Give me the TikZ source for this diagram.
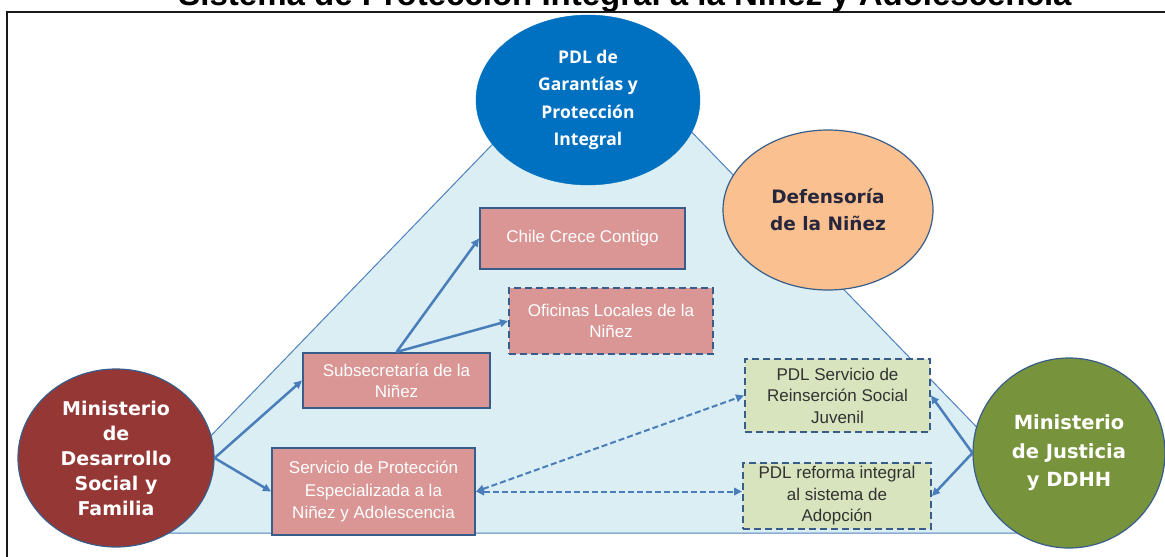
\documentclass[tikz,border=0pt]{standalone}
\usepackage{fontspec}
\setmainfont{Liberation Sans}
\newfontfamily\dvs{DejaVu Sans}
\newfontfamily\osans{Open Sans}
\usetikzlibrary{shapes.geometric,arrows.meta}
\definecolor{trifill}{RGB}{218,238,243}
\definecolor{triline}{RGB}{79,129,189}
\definecolor{boxblue}{RGB}{56,93,138}
\definecolor{pinkfill}{RGB}{217,150,148}
\definecolor{greenfill}{RGB}{215,228,189}
\definecolor{pdlblue}{RGB}{0,112,192}
\definecolor{orangefill}{RGB}{250,192,144}
\definecolor{maroon}{RGB}{149,55,53}
\definecolor{olive}{RGB}{119,147,60}
\definecolor{arrowblue}{RGB}{74,126,187}
\definecolor{darktext}{RGB}{50,50,50}
\definecolor{navytext}{RGB}{38,38,60}
\tikzset{
  pinkbox/.style={draw=boxblue, line width=2pt, fill=pinkfill, text=white,
    font=\fontsize{17}{21}\selectfont, align=center, inner sep=0pt},
  greenbox/.style={draw=boxblue, line width=2pt, dash pattern=on 7pt off 4pt, fill=greenfill, text=darktext,
    font=\fontsize{17}{21.5}\selectfont, align=center, inner sep=0pt},
  bigcirc/.style={ellipse, draw=boxblue, line width=1.2pt, inner sep=0pt, text=white, align=center},
  solidarrow/.style={draw=arrowblue, line width=2.5pt, -{Triangle[length=8pt,width=7.5pt]}},
  dasharrow/.style={draw=arrowblue, line width=2pt, dash pattern=on 6pt off 3pt,
    {Triangle[length=8pt,width=7.5pt]}-{Triangle[length=8pt,width=7.5pt]}},
}
\begin{document}
\begin{tikzpicture}[x=1pt,y=-1pt]
\useasboundingbox (0,0) rectangle (1165,557);
% title (partly clipped)
\node[anchor=base, font=\fontsize{33}{36}\selectfont\bfseries, inner sep=0pt] (title) at (625,5)
  {Sistema de Protección Integral a la Niñez y Adolescencia};
% frame
\draw[line width=2pt, color=black!90] (7,560) -- (7,12) -- (1168,12);
% triangle
\filldraw[fill=trifill, draw=triline, line width=1pt] (598,35) -- (117,533) -- (1079,533) -- cycle;
% ellipses
\node[ellipse, fill=pdlblue, draw=pdlblue, minimum width=224pt, minimum height=170pt, inner sep=0pt,
  text=white, align=center, font=\osans\bfseries\fontsize{17.5}{27.3}\selectfont] (pdl) at (588,100)
  {PDL de\\Garantías y\\Protección\\Integral};
\node[ellipse, fill=orangefill, draw=boxblue, line width=1.2pt, minimum width=210pt, minimum height=160pt,
  inner sep=0pt, text=navytext, align=center, font=\dvs\bfseries\fontsize{18.5}{27}\selectfont] (def) at (828,210)
  {Defensoría\\de la Niñez};
\node[bigcirc, fill=maroon, minimum width=196pt, minimum height=178pt,
  font=\dvs\bfseries\fontsize{19}{25}\selectfont] (mds) at (116,458)
  {Ministerio\\de\\Desarrollo\\Social y\\Familia};
\node[bigcirc, fill=olive, minimum width=192pt, minimum height=190pt,
  font=\dvs\bfseries\fontsize{19.5}{28.5}\selectfont] (mj) at (1069,453)
  {Ministerio\\de Justicia\\y DDHH};
% boxes
\node[pinkbox, minimum width=205pt, minimum height=61pt] (chile) at (582.5,238.5) {Chile Crece Contigo};
\node[pinkbox, dash pattern=on 7pt off 4pt, minimum width=204pt, minimum height=66pt] (ofi) at (611,321)
  {Oficinas Locales de la\\Niñez};
\node[pinkbox, minimum width=187pt, minimum height=55pt] (sub) at (396.5,380.5)
  {Subsecretaría de la\\Niñez};
\node[pinkbox, font=\fontsize{17}{22.5}\selectfont, minimum width=203pt, minimum height=87pt] (serv) at (373.5,491.5)
  {Servicio de Protección\\Especializada a la\\Niñez y Adolescencia};
\node[greenbox, minimum width=185pt, minimum height=73pt] (rein) at (837.5,395.5)
  {PDL Servicio de\\Reinserción Social\\Juvenil};
\node[greenbox, minimum width=188pt, minimum height=66pt] (adop) at (837,496)
  {PDL reforma integral\\al sistema de\\Adopción};
% arrows
\draw[solidarrow] (mds.east) -- (sub.west);
\draw[solidarrow] (mds.east) -- (serv.west);
\draw[solidarrow] (sub.north) -- (chile.west);
\draw[solidarrow] (sub.north) -- (ofi.west);
\draw[dasharrow] (serv.east) -- (rein.west);
\draw[dasharrow] (serv.east) -- (serv.east -| adop.west);
\draw[solidarrow] (mj.west) -- (rein.east);
\draw[solidarrow] (mj.west) -- (adop.east);
\end{tikzpicture}
\end{document}
